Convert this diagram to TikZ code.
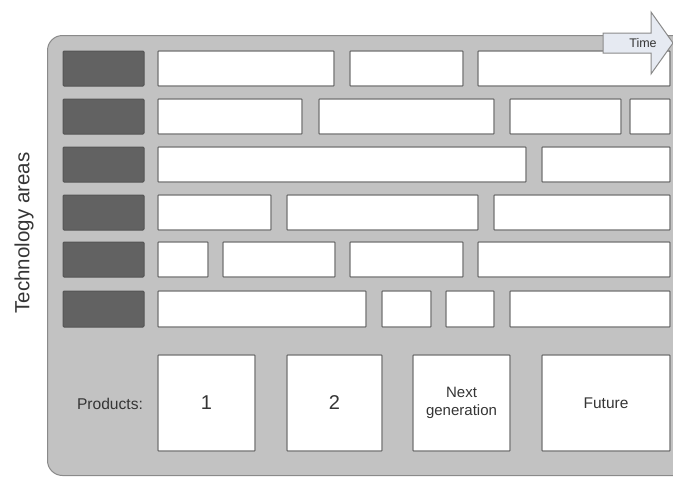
\documentclass[tikz,border=0pt]{standalone}
\usepackage{fontspec}
\setmainfont{Liberation Sans}
\definecolor{panelfill}{HTML}{C2C2C2}
\definecolor{panelline}{HTML}{8A8A8A}
\definecolor{darkfill}{HTML}{626262}
\definecolor{darkline}{HTML}{555555}
\definecolor{boxline}{HTML}{737373}
\definecolor{txt}{HTML}{353535}
\definecolor{arrowfill}{HTML}{E6EAF2}
\newcommand{\bx}[6]{\node[#1, minimum width={#4-#3}, minimum height={#6-#5}] (#2) at ({(#3+#4)/2},{(#5+#6)/2}) {};}
\newcommand{\pbx}[6]{\node[wbox, minimum width={#3-#2}, minimum height={#5-#4}, align=center, font=#6] (#1) at ({(#2+#3)/2},{(#4+#5)/2})}
\begin{document}
\begin{tikzpicture}[x=1pt,y=-1pt,
  panel/.style={draw=panelline, fill=panelfill, line width=1pt, rounded corners=15pt, inner sep=0pt},
  wbox/.style={draw=boxline, fill=white, line width=1.3pt, inner sep=0pt, rounded corners=0.8pt, text=txt},
  dbox/.style={draw=darkline, fill=darkfill, line width=1pt, inner sep=0pt, rounded corners=1.2pt},
  lbl/.style={text=txt, inner sep=0pt}]
\useasboundingbox (0,0) rectangle (673,477);
\clip (0,0) rectangle (673,477);
\node[panel, minimum width=660, minimum height=440, anchor=north west] (panel) at (47,35) {};
% dark boxes
\bx{dbox}{d1}{63}{144}{51}{86}
\bx{dbox}{d2}{63}{144}{99}{134}
\bx{dbox}{d3}{63}{144}{147}{182}
\bx{dbox}{d4}{63}{144}{195}{230}
\bx{dbox}{d5}{63}{144}{242}{277}
\bx{dbox}{d6}{63}{144}{291}{327}
% row 1
\bx{wbox}{r1a}{158}{334}{51}{86}
\bx{wbox}{r1b}{350}{463}{51}{86}
\bx{wbox}{r1c}{478}{670}{51}{86}
% row 2
\bx{wbox}{r2a}{158}{302}{99}{134}
\bx{wbox}{r2b}{319}{494}{99}{134}
\bx{wbox}{r2c}{510}{621}{99}{134}
\bx{wbox}{r2d}{630}{670}{99}{134}
% row 3
\bx{wbox}{r3a}{158}{526}{147}{182}
\bx{wbox}{r3b}{542}{670}{147}{182}
% row 4
\bx{wbox}{r4a}{158}{271}{195}{230}
\bx{wbox}{r4b}{287}{478}{195}{230}
\bx{wbox}{r4c}{494}{670}{195}{230}
% row 5
\bx{wbox}{r5a}{158}{208}{242}{277}
\bx{wbox}{r5b}{223}{335}{242}{277}
\bx{wbox}{r5c}{350}{463}{242}{277}
\bx{wbox}{r5d}{478}{670}{242}{277}
% row 6
\bx{wbox}{r6a}{158}{366}{291}{327}
\bx{wbox}{r6b}{382}{431}{291}{327}
\bx{wbox}{r6c}{446}{494}{291}{327}
\bx{wbox}{r6d}{510}{670}{291}{327}
% products
\pbx{p1}{158}{255}{355}{451}{\fontsize{20}{24}\selectfont}{1};
\pbx{p2}{287}{382}{355}{451}{\fontsize{20}{24}\selectfont}{2};
\pbx{p3}{413}{510}{355}{451}{\fontsize{15}{18}\selectfont}{Next\\generation};
\pbx{p4}{542}{670}{355}{451}{\fontsize{15.5}{18}\selectfont}{Future};
\node[lbl, font=\fontsize{15.6}{18}\selectfont] (prod) at (110,404) {Products:};
\node[lbl, rotate=90, font=\fontsize{20.5}{24}\selectfont] (tech) at (24,233) {Technology areas};
% time arrow
\draw[draw=panelline, fill=arrowfill, line width=1pt, line join=miter]
  (603,33) -- (651,33) -- (651,12) -- (673,43) -- (651,74) -- (651,53) -- (603,53) -- cycle;
\node[lbl, font=\fontsize{12.5}{15}\selectfont] (time) at (643,43) {Time};
\end{tikzpicture}
\end{document}
